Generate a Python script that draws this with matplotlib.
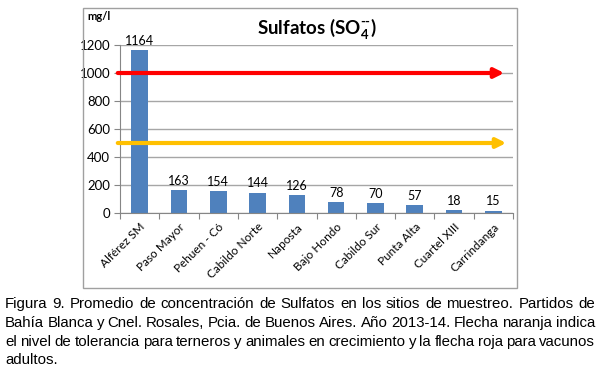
import matplotlib.pyplot as plt
from matplotlib.patches import Rectangle

sitios = ['Alférez SM', 'Paso Mayor', 'Pehuen - Có', 'Cabildo Norte', 'Naposta',
          'Bajo Hondo', 'Cabildo Sur', 'Punta Alta', 'Cuartel XIII', 'Carrindanga']
sulfatos = [1164, 163, 154, 144, 126, 78, 70, 57, 18, 15]
yticks = [0, 200, 400, 600, 800, 1000, 1200]
nivel_vacunos = 1000
nivel_terneros = 500

caption = [
    'Figura 9. Promedio de concentración de Sulfatos en los sitios de muestreo. Partidos de',
    'Bahía Blanca y Cnel. Rosales, Pcia. de Buenos Aires. Año 2013-14. Flecha naranja indica',
    'el nivel de tolerancia para terneros y animales en crecimiento y la flecha roja para vacunos',
    'adultos.',
]

W, H = 600, 367
fig = plt.figure(figsize=(W / 100, H / 100), dpi=100)
plt.rcParams['font.family'] = ['Lato', 'DejaVu Sans']
plt.rcParams['mathtext.fontset'] = 'custom'
plt.rcParams['mathtext.rm'] = 'Lato:bold'
plt.rcParams['mathtext.bf'] = 'Lato:bold'
plt.rcParams['mathtext.default'] = 'bf'

# chart frame
fig.patches.append(Rectangle((83 / W, 1 - 288 / H), 434 / W, 280 / H, transform=fig.transFigure,
                             fill=False, edgecolor='#a0a0a0', lw=1.0))

ax = fig.add_axes([120 / W, 1 - 213 / H, 393 / W, 168 / H])
x = range(len(sitios))
ax.bar(x, sulfatos, width=0.42, color='#4f81bd', zorder=2)
ax.set_xlim(-0.5, len(sitios) - 0.5)
ax.set_ylim(0, 1200)
ax.set_yticks(yticks)
ax.yaxis.grid(True, color='#a6a6a6', lw=1.0, zorder=0)
for s in ['top', 'right']:
    ax.spines[s].set_visible(False)
for s in ['left', 'bottom']:
    ax.spines[s].set_color('#868686')
ax.tick_params(axis='y', labelsize=9.5, colors='#868686', labelcolor='black', length=4, pad=3)
ax.set_xticks([i - 0.5 for i in range(len(sitios) + 1)])
ax.set_xticklabels([])
ax.tick_params(axis='x', colors='#868686', length=4)
ax.set_xticks(list(x), minor=True)
ax.set_xticklabels(sitios, minor=True, rotation=45, ha='right', rotation_mode='anchor', fontsize=8.5)
ax.tick_params(axis='x', which='minor', length=0, pad=6)

for xi, v in zip(x, sulfatos):
    ax.text(xi, v + 25, str(v), ha='center', va='bottom', fontsize=9)

ax.set_title(r'Sulfatos (SO$_4^{\text{-}\text{-}}$)', fontsize=13.5, fontweight='bold', pad=8)
fig.text(87 / W, 1 - 17 / H, 'mg/l', fontsize=8, fontweight='bold', va='center')

# arrows
ax.annotate('', xy=(507 / W, nivel_vacunos), xytext=(115 / W, nivel_vacunos),
            xycoords=('figure fraction', 'data'), textcoords=('figure fraction', 'data'),
            arrowprops=dict(arrowstyle='-|>', color='#ff0000', lw=3, mutation_scale=14),
            annotation_clip=False, zorder=5)
ax.annotate('', xy=(509 / W, nivel_terneros), xytext=(115 / W, nivel_terneros),
            xycoords=('figure fraction', 'data'), textcoords=('figure fraction', 'data'),
            arrowprops=dict(arrowstyle='-|>', color='#ffc000', lw=3, mutation_scale=14),
            annotation_clip=False, zorder=5)

# justified caption
renderer = fig.canvas.get_renderer()
left, right = 5, 595
ys = [304, 323, 342, 360]
fs = 10.8
for i, (line, yp) in enumerate(zip(caption, ys)):
    words = line.split(' ')
    texts = [fig.text(0, 1 - yp / H, w, fontsize=fs, family=['Liberation Sans'], va='center')
             for w in words]
    widths = [t.get_window_extent(renderer).width for t in texts]
    if i < len(caption) - 1 and len(words) > 1:
        gap = (right - left - sum(widths)) / (len(words) - 1)
    else:
        gap = 3
    xp = left
    for t, w in zip(texts, widths):
        t.set_x(xp / W)
        xp += w + gap

fig.savefig('out.png', dpi=100)
